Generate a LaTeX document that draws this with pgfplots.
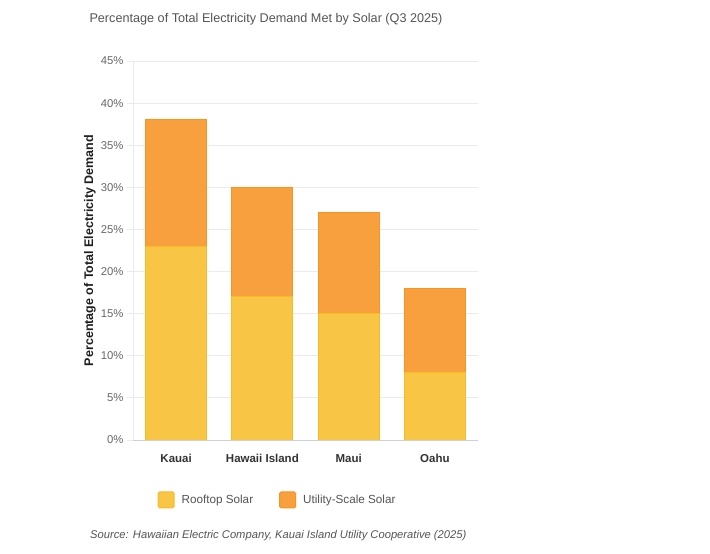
\documentclass[border=0pt]{standalone}
\usepackage{fontspec}
\setmainfont{Liberation Sans}
\usepackage{pgfplots}
\pgfplotsset{compat=1.18}

\definecolor{rooftop}{HTML}{F9C544}
\definecolor{rooftopedge}{HTML}{F6BC24}
\definecolor{utility}{HTML}{F8A03D}
\definecolor{utilityedge}{HTML}{F7951F}
\definecolor{gridgrey}{HTML}{EBEBEB}
\definecolor{ticktext}{HTML}{666666}

\begin{document}
\begin{tikzpicture}
\path[use as bounding box] (0,0) rectangle (710bp,554bp);

\node[text=black!67, font=\fontsize{12.65bp}{15bp}\selectfont] at (266bp,535bp)
  {Percentage of Total Electricity Demand Met by Solar (Q3 2025)};

\begin{axis}[
    at={(133bp,114bp)}, anchor=south west,
    scale only axis,
    width=345bp, height=379bp,
    ybar stacked,
    bar width=61bp,
    xmin=-0.5, xmax=3.5,
    ymin=0, ymax=45,
    xtick=data,
    xticklabels={Kauai, Hawaii Island, Maui, Oahu},
    x tick label style={font=\bfseries\fontsize{11.5bp}{14bp}\selectfont, text=black!80, yshift=-5bp},
    xtick style={draw=none},
    ytick={0,5,...,45},
    yticklabel={\pgfmathprintnumber{\tick}\%},
    /pgf/number format/assume math mode=true,
    y tick label style={font=\fontsize{11.3bp}{13bp}\selectfont, text=ticktext},
    ytick style={draw=gridgrey, line width=0.8bp},
    tick align=outside,
    major tick length=6bp,
    ymajorgrids=true,
    grid style={draw=gridgrey, line width=0.8bp},
    axis line style={draw=none},
    axis x line*=bottom,
    axis y line*=left,
    x axis line style={draw=black!18, line width=1bp},
    y axis line style={draw=gridgrey, line width=0.8bp},
    ylabel={Percentage of Total Electricity Demand},
    ylabel style={font=\bfseries\fontsize{12.5bp}{15bp}\selectfont, text=black!88,
      at={(axis description cs:-0.125,0.5)}, anchor=center},
    legend columns=2,
    legend style={at={(0.419,-0.158)}, anchor=center, draw=none,
      font=\fontsize{11.7bp}{14bp}\selectfont, text=black!67,
      /tikz/every odd column/.append style={column sep=5bp},
      /tikz/every even column/.append style={column sep=24bp}},
    legend image code/.code={\draw[#1, rounded corners=1.5bp] (0bp,-8bp) rectangle (16bp,8bp);},
  ]
  \addplot[fill=rooftop, draw=rooftopedge, line width=1bp]
    coordinates {(0,23) (1,17) (2,15) (3,8)};
  \addlegendentry{Rooftop Solar}
  \addplot[fill=utility, draw=utilityedge, line width=1bp]
    coordinates {(0,15) (1,13) (2,12) (3,10)};
  \addlegendentry{Utility-Scale Solar}
\end{axis}

\node[anchor=west, inner sep=0pt, text=black!67, font=\itshape\fontsize{11.2bp}{13bp}\selectfont] at (90bp,18bp)
  {Source: Hawaiian Electric Company, Kauai Island Utility Cooperative (2025)};
\end{tikzpicture}
\end{document}
